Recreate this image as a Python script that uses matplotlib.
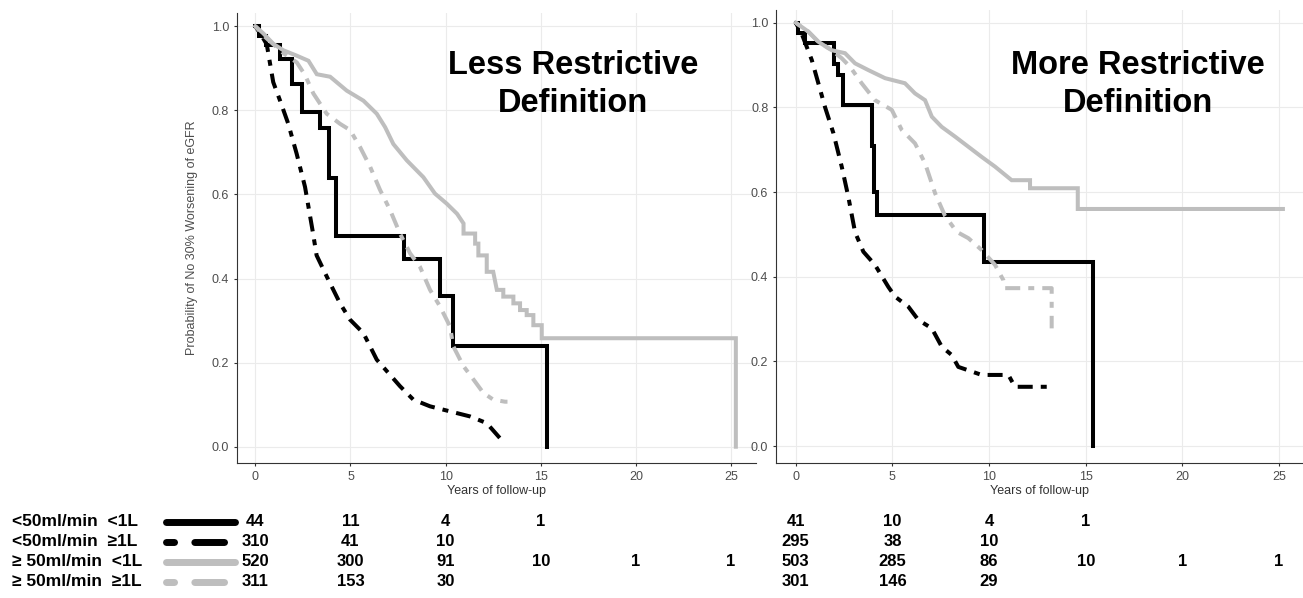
import matplotlib
matplotlib.use("Agg")
import matplotlib.pyplot as plt
import matplotlib.transforms as mtransforms
from matplotlib.lines import Line2D

plt.rcParams['font.family'] = ['Liberation Sans', 'DejaVu Sans']
plt.rcParams['lines.scale_dashes'] = False

W, H = 1303, 598

groups = ["<50ml/min  <1L", "<50ml/min  ≥1L", "≥ 50ml/min  <1L", "≥ 50ml/min  ≥1L"]
risk_times = [0, 5, 10, 15, 20, 25]

# ---- less restrictive definition ----
less_a_t = [0, 0.2, 0.55, 1.3, 1.9, 2.45, 3.4, 3.85, 4.25, 7.8, 9.7, 10.4, 15.35]
less_a_s = [1.0, 0.977, 0.955, 0.923, 0.863, 0.795, 0.757, 0.638, 0.50, 0.446, 0.358, 0.240, 0.0]

less_b_t = [0, 0.3, 0.6, 0.94, 1.3, 1.73, 2.17, 2.61, 3.0, 3.22, 3.75, 4.45, 4.98, 5.68,
            6.38, 7.6, 8.3, 9.18, 10.23, 11.28, 12.16, 12.86, 13.0]
less_b_s = [1.0, 0.98, 0.957, 0.867, 0.823, 0.768, 0.697, 0.618, 0.516, 0.455, 0.405, 0.341,
            0.302, 0.27, 0.207, 0.144, 0.112, 0.096, 0.084, 0.072, 0.056, 0.02, 0.02]

less_c_t = [0, 0.42, 0.95, 1.47, 2.18, 2.79, 3.23, 3.93, 4.8, 5.68, 6.38, 6.82, 7.25, 7.96,
            8.83, 9.44, 10.06, 10.6, 10.94, 10.94, 11.55, 11.55, 11.72, 11.72, 12.16, 12.16,
            12.5, 12.69, 13.03, 13.03, 13.56, 13.56, 13.91, 13.91, 14.26, 14.26, 14.61, 14.61,
            15.05, 15.05, 25.25, 25.25]
less_c_s = [1.0, 0.983, 0.958, 0.943, 0.93, 0.918, 0.886, 0.88, 0.847, 0.823, 0.792, 0.76,
            0.72, 0.681, 0.641, 0.602, 0.578, 0.554, 0.531, 0.507, 0.507, 0.483, 0.483, 0.455,
            0.455, 0.416, 0.416, 0.373, 0.373, 0.357, 0.357, 0.341, 0.341, 0.325, 0.325, 0.313,
            0.313, 0.289, 0.289, 0.258, 0.258, 0.0]

less_d_t = [0, 0.5, 1.0, 1.5, 2.18, 2.61, 3.05, 3.75, 4.45, 4.98, 5.5, 6.03, 6.55, 7.08, 7.6,
            8.13, 8.65, 9.18, 9.7, 10.23, 10.4, 10.93, 11.46, 11.98, 12.5, 13.12, 13.25]
less_d_s = [1.0, 0.975, 0.955, 0.935, 0.914, 0.884, 0.84, 0.792, 0.768, 0.753, 0.713, 0.666,
            0.611, 0.563, 0.507, 0.46, 0.428, 0.373, 0.334, 0.286, 0.239, 0.192, 0.16, 0.128,
            0.112, 0.107, 0.107]

less_at_risk = [[44, 11, 4, 1], [310, 41, 10], [520, 300, 91, 10, 1, 1], [311, 153, 30]]

# ---- more restrictive definition ----
more_a_t = [0, 0.1, 0.5, 2.0, 2.2, 2.45, 3.93, 4.07, 4.2, 9.76, 15.4]
more_a_s = [1.0, 0.976, 0.951, 0.902, 0.876, 0.805, 0.709, 0.599, 0.546, 0.435, 0.0]

more_b_t = [0, 0.3, 0.57, 0.83, 1.17, 1.52, 1.95, 2.38, 2.72, 3.07, 3.5, 4.1, 4.79, 5.14,
            5.83, 6.34, 7.04, 7.55, 8.07, 8.41, 9.62, 11.0, 11.34, 13.07]
more_b_s = [1.0, 0.975, 0.943, 0.912, 0.857, 0.80, 0.739, 0.66, 0.589, 0.505, 0.459, 0.428,
            0.376, 0.353, 0.329, 0.298, 0.278, 0.235, 0.215, 0.187, 0.168, 0.168, 0.14, 0.14]

more_c_t = [0, 0.65, 1.17, 1.86, 2.55, 3.07, 3.76, 4.62, 5.65, 6.17, 6.69, 7.04, 7.55, 8.24,
            8.93, 9.62, 10.31, 11.17, 12.12, 12.12, 14.59, 14.59, 25.2]
more_c_s = [1.0, 0.979, 0.955, 0.935, 0.928, 0.904, 0.888, 0.869, 0.857, 0.833, 0.817, 0.778,
            0.754, 0.731, 0.707, 0.683, 0.66, 0.628, 0.628, 0.609, 0.609, 0.56, 0.56]

more_d_t = [0, 0.65, 1.17, 1.86, 2.38, 2.81, 3.41, 4.1, 4.97, 5.48, 6.17, 6.69, 7.21, 7.72,
            8.33, 8.93, 9.62, 10.31, 10.74, 10.83, 13.24, 13.24]
more_d_s = [1.0, 0.979, 0.955, 0.935, 0.916, 0.896, 0.857, 0.817, 0.794, 0.747, 0.715, 0.668,
            0.597, 0.544, 0.506, 0.491, 0.463, 0.428, 0.392, 0.373, 0.373, 0.278]

more_at_risk = [[41, 10, 4, 1], [295, 38, 10], [503, 285, 86, 10, 1, 1], [301, 146, 29]]

GREY = '#bebebe'
DASH = (0, (4.3, 5.8, 10.8, 5.8))
styles = [dict(color='black', ls='-', step=True),
          dict(color='black', ls=DASH, step=False),
          dict(color=GREY, ls='-', step=False),
          dict(color=GREY, ls=DASH, step=False)]

fig = plt.figure(figsize=(W / 100, H / 100), dpi=100)


def px(x, y):
    return x / W, 1 - y / H


def style_axes(ax):
    for s in ['top', 'right']:
        ax.spines[s].set_visible(False)
    for s in ['left', 'bottom']:
        ax.spines[s].set_color('#333333')
        ax.spines[s].set_linewidth(0.8)
    ax.set_xticks(risk_times)
    ax.set_yticks([0, 0.2, 0.4, 0.6, 0.8, 1.0])
    ax.set_yticklabels(['0.0', '0.2', '0.4', '0.6', '0.8', '1.0'])
    ax.tick_params(length=2.5, width=0.8, color='#333333', labelcolor='#4d4d4d',
                   labelsize=9, pad=3)
    ax.grid(True, color='#ebebeb', lw=0.8)
    ax.set_axisbelow(True)
    ax.set_xlabel("Years of follow-up", fontsize=9, color='#333333')
    ax.xaxis.set_label_coords(0.5, -0.048)


def draw_panel(ax, curves, at_risk, title, title_x):
    for (t, s), st in zip(curves, styles):
        ax.plot(t, s, color=st['color'], ls=st['ls'], lw=2.9,
                drawstyle='steps-post' if st['step'] else 'default',
                solid_joinstyle='miter', dash_capstyle='butt')
    style_axes(ax)
    fig.text(*px(title_x, 84.5), title, ha='center', va='center', fontsize=23.5,
             fontweight='bold', linespacing=1.33)
    trans = mtransforms.blended_transform_factory(ax.transData, fig.transFigure)
    for row, vals in enumerate(at_risk):
        y = 1 - (522 + 20 * row) / H
        for tx, v in zip(risk_times, vals):
            ax.text(tx, y, str(v), transform=trans, ha='center', va='center',
                    fontsize=12, fontweight='bold', clip_on=False)


ax1 = fig.add_axes([236.7 / W, 1 - 463 / H, 519.5 / W, 449.7 / H])
ax1.set_xlim(-0.98, 26.32)
ax1.set_ylim(-0.0388, 1.0309)
draw_panel(ax1, [(less_a_t, less_a_s), (less_b_t, less_b_s), (less_c_t, less_c_s),
                 (less_d_t, less_d_s)], less_at_risk, "Less Restrictive\nDefinition", 573)
ax1.set_ylabel("Probability of No 30% Worsening of eGFR", fontsize=9, color='#4d4d4d')
ax1.yaxis.set_label_coords(-0.0745, 0.5)

ax2 = fig.add_axes([776 / W, 1 - 463 / H, 527 / W, 453 / H])
ax2.set_xlim(-1.02, 26.24)
ax2.set_ylim(-0.040, 1.030)
draw_panel(ax2, [(more_a_t, more_a_s), (more_b_t, more_b_s), (more_c_t, more_c_s),
                 (more_d_t, more_d_s)], more_at_risk, "More Restrictive\nDefinition", 1138)

# risk table labels and line keys
legend_dash = (0, (5.8, 14.6, 21.4, 30))
for row, label in enumerate(groups):
    yy = 522 + 20 * row
    fig.text(*px(12, yy), label, ha='left', va='center', fontsize=12.5, fontweight='bold')
    st = styles[row]
    ln = Line2D([166 / W, 235 / W], [1 - yy / H] * 2, transform=fig.transFigure,
                color=st['color'], lw=5, solid_capstyle='round', dash_capstyle='round',
                ls='-' if st['ls'] == '-' else legend_dash)
    fig.add_artist(ln)

fig.savefig("out.png", dpi=100)
